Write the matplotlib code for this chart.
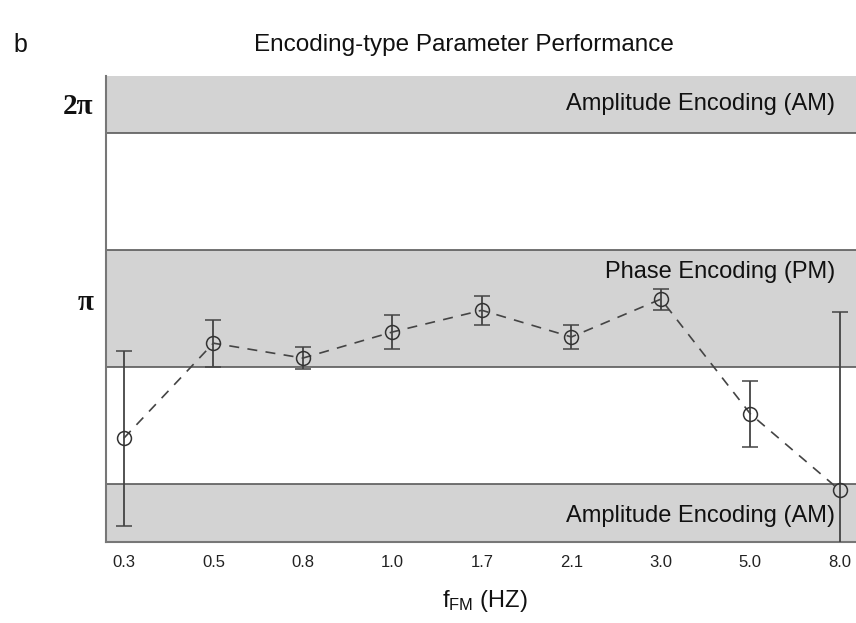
import numpy as np
import matplotlib
matplotlib.use('Agg')
import matplotlib.pyplot as plt

# data (phase in radians)
freq_labels = ['0.3', '0.5', '0.8', '1.0', '1.7', '2.1', '3.0', '5.0', '8.0']
phase_mean = [0.90, 2.43, 2.19, 2.61, 2.96, 2.53, 3.14, 1.29, 0.06]
phase_err = [1.41, 0.38, 0.18, 0.27, 0.23, 0.20, 0.17, 0.53, 2.87]

# shaded encoding regions (radians)
am_top = (5.816, 6.9)
pm_band = (2.046, 3.931)
am_bottom = (-0.9, 0.161)

fig = plt.figure(figsize=(8.56, 6.23), dpi=100)
ax = fig.add_axes([0.1238, 0.130, 0.8762, 0.748])

x = np.arange(len(freq_labels))
band_col = '#d3d3d3'
edge_col = '#5a5a5a'
for lo, hi in (am_top, pm_band, am_bottom):
    ax.axhspan(lo, hi, facecolor=band_col, edgecolor='none', zorder=0)
    ax.axhline(lo, color=edge_col, lw=1.2, zorder=1)
    ax.axhline(hi, color=edge_col, lw=1.2, zorder=1)

ax.errorbar(x, phase_mean, yerr=phase_err, fmt='o', mfc='none', mec='#333333',
            ms=10, mew=1.1, ecolor='#444444', elinewidth=1.3, capsize=6,
            capthick=1.3, zorder=3)
ax.plot(x, phase_mean, ls=(0, (6, 5)), color='#444444', lw=1.2, zorder=2)

ax.set_xlim(-0.2, 8.18)
ax.set_ylim(-0.773, 6.734)

ax.set_xticks(x)
ax.set_xticklabels(freq_labels, family='Liberation Sans', fontsize=12,
                   color='#222222')
ax.set_yticks([np.pi, 2 * np.pi])
ax.set_yticklabels(['\u03c0', '2\u03c0'], family='Liberation Serif',
                   fontsize=21, weight='bold', color='#111111')
ax.tick_params(length=0, pad=9)

for s in ('top', 'right'):
    ax.spines[s].set_visible(False)
for s in ('left', 'bottom'):
    ax.spines[s].set_color('#777777')
    ax.spines[s].set_linewidth(1.5)

lab_font = dict(family='Liberation Sans', fontsize=17, color='#111111',
                ha='right', va='center')
ax.text(7.95, 2 * np.pi, 'Amplitude Encoding (AM)', **lab_font)
ax.text(7.95, 3.58, 'Phase Encoding (PM)', **lab_font)
ax.text(7.95, -0.36, 'Amplitude Encoding (AM)', **lab_font)

fig.text(0.542, 0.928, 'Encoding-type Parameter Performance', ha='center',
         va='center', family='Liberation Sans', fontsize=17.5, color='#111111')
fig.text(0.016, 0.928, 'b', ha='left', va='center', family='Liberation Sans',
         fontsize=18, color='#111111')
fig.text(0.567, 0.035, r'$\mathregular{f_{FM}}$ (HZ)', ha='center', va='center',
         family='Liberation Sans', fontsize=17, color='#111111')

fig.savefig('out.png', dpi=100)
